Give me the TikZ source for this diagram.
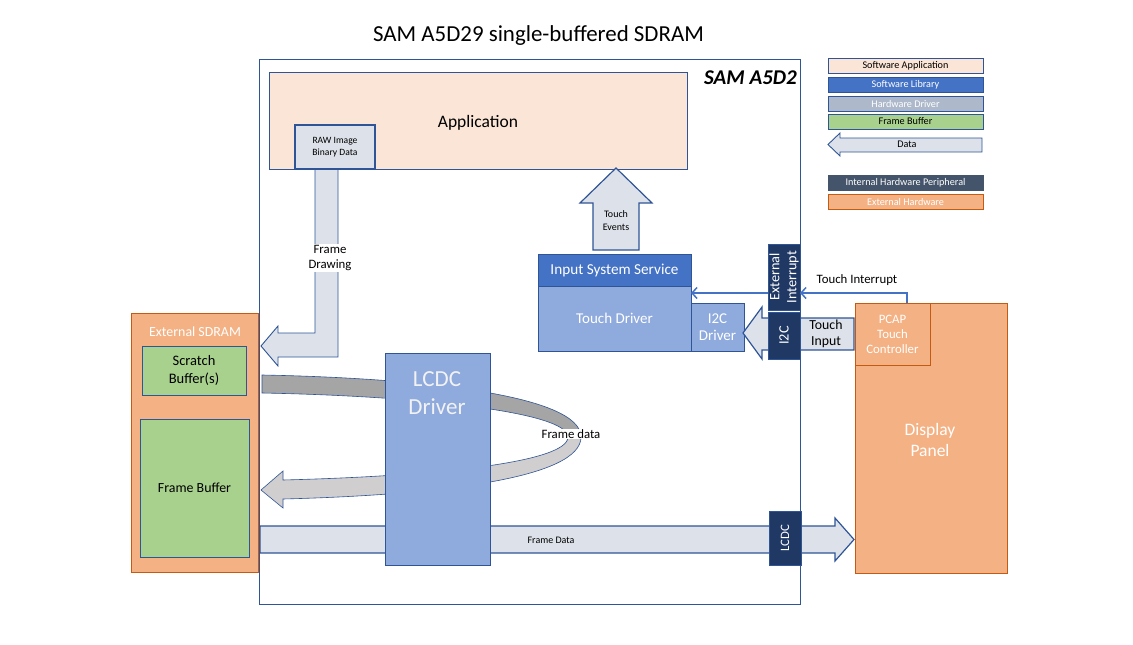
\documentclass[tikz,border=0pt]{standalone}
\usepackage{fontspec}
\setmainfont{Carlito}
\usetikzlibrary{arrows.meta}
\definecolor{bord}{HTML}{2F5597}
\definecolor{softapp}{HTML}{FBE5D6}
\definecolor{swlib}{HTML}{4472C4}
\definecolor{hwdrv}{HTML}{ADB9CA}
\definecolor{fbuf}{HTML}{A9D18E}
\definecolor{datafill}{HTML}{DDE2EA}
\definecolor{navy}{HTML}{203864}
\definecolor{inthw}{HTML}{44546A}
\definecolor{exthw}{HTML}{F4B183}
\definecolor{exthwb}{HTML}{C55A11}
\definecolor{drv}{HTML}{8FAADC}
\definecolor{dgrey}{HTML}{A5A5A5}
\definecolor{lgrey}{HTML}{D0CECE}
\newcommand{\fsz}[2]{\fontsize{#1}{#2}\selectfont}
\begin{document}
\begin{tikzpicture}[x=1pt,y=-1pt,
  box/.style={draw=bord, line width=0.75pt, inner sep=0pt, outer sep=0pt, align=center},
  wh/.style 2 args={minimum width=#1pt, minimum height=#2pt},
  ext/.style={box, draw=exthwb, fill=exthw, text=white},
  navybox/.style={box, fill=navy, text=white},
  dataarrow/.style={draw=bord, fill=datafill, line width=1.2pt, line join=miter},
  lbl/.style={inner sep=1pt, align=center},
  intarrow/.style={draw=swlib, line width=1.5pt, -{Straight Barb[length=5pt,width=11pt,line width=1.5pt]}},
  leg/.style={box, wh={155}{15}, font=\fsz{10.2}{11}},
]
\fill[white] (0,0) rectangle (1133,645);
\path[use as bounding box] (0,0) rectangle (1133,645);

% title
\node[anchor=base, inner sep=0pt, font=\fsz{22.9}{27}] (title) at (538.5,41.5) {SAM A5D29 single-buffered SDRAM};

% SoC box
\node[draw=bord, line width=0.8pt, wh={541}{545}, inner sep=0pt] (soc) at (529.5,331.5) {};
\node[anchor=base east, inner sep=0pt, font=\fsz{21}{25}\bfseries\itshape] (socname) at (797,84) {SAM A5D2};

% Application
\node[box, fill=softapp, wh={418}{97}] (app) at (478,120.5) {};
\node[anchor=base, inner sep=0pt, font=\fsz{17.5}{20}] (apptxt) at (478,127.7) {Application};

% Frame drawing arrow
\path[dataarrow, line width=0.9pt] (315,169) -- (338,169) -- (338,357) -- (278,357) -- (278,366) -- (261,346) -- (278,326) -- (278,333) -- (315,333) -- cycle;
\node[lbl, fill=white, font=\fsz{12.8}{15}] (fdraw) at (330,258) {Frame\\Drawing};

% RAW image box
\node[box, fill=datafill, line width=1.6pt, wh={80}{44}, font=\fsz{9.6}{12}] (raw) at (335,147) {RAW Image\\Binary Data};

% Touch events arrow
\path[dataarrow] (593,250) -- (593,203) -- (580,203) -- (616,168) -- (652,203) -- (639,203) -- (639,250) -- cycle;
\node[lbl, font=\fsz{10}{13}] (tev) at (616,221) {Touch\\Events};

% Input system service / touch driver
\node[box, fill=swlib, text=white, wh={153}{32}, font=\fsz{15.2}{17}] (iss) at (614.5,270) {Input System Service};
\node[box, fill=drv, text=white, wh={153}{65}, font=\fsz{15}{17}] (tdrv) at (614.5,318.5) {Touch Driver};
\node[box, fill=drv, text=white, wh={53}{48}, font=\fsz{15}{17}] (i2cdrv) at (717.5,327) {I2C\\Driver};

% Touch input arrow
\path[dataarrow] (854,318) -- (762,318) -- (762,307) -- (743,333) -- (762,359) -- (762,350) -- (854,350) -- cycle;
\node[lbl, font=\fsz{13.8}{15.5}] (tin) at (826,334) {Touch\\Input};

% Bottom frame data arrow
\path[dataarrow] (260,526) -- (835,526) -- (835,518) -- (854,539.5) -- (835,561) -- (835,553) -- (260,553) -- cycle;
\node[lbl, font=\fsz{10}{11}] (fdata) at (551,540) {Frame Data};

% Curved frame data arrow
\filldraw[fill=dgrey, draw=bord, line width=0.6pt] (262,375) .. controls (420,378) and (581,395) .. (581,437) -- (568,437) .. controls (568,412) and (420,396) .. (262,393) -- cycle;
\filldraw[fill=lgrey, draw=bord, line width=0.6pt] (581,437) .. controls (581,478) and (440,495) .. (283,499) -- (283,508) -- (261,490) -- (283,471) -- (283,480) .. controls (440,476) and (568,462) .. (568,437) -- cycle;
\node[lbl, fill=white, font=\fsz{12.8}{14}] (fdlbl) at (571,434) {Frame data};

% LCDC driver
\node[box, fill=drv, wh={105}{212}] (lcdcdrv) at (437.5,459) {};
\node[lbl, text=white!95!black, font=\fsz{23}{28}] (lcdctxt) at (437,393) {LCDC\\Driver};

% navy peripherals
\node[navybox, wh={32}{66}] (extint) at (784,277) {};
\node[rotate=90, lbl, text=white, font=\fsz{14.3}{17}] (extinttxt) at (extint.center) {External\\Interrupt};
\node[navybox, wh={32}{47}] (i2c) at (784,335.5) {};
\node[rotate=90, lbl, text=white, font=\fsz{14.3}{16}] (i2ctxt) at (i2c.center) {I2C};
\node[navybox, wh={32}{54}] (lcdc) at (785,538) {};
\node[rotate=90, lbl, text=white, font=\fsz{12.8}{14}] (lcdctxt2) at (lcdc.center) {LCDC};

% External SDRAM
\node[ext, wh={127}{259}] (sdram) at (194.5,442.5) {};
\node[lbl, text=white, font=\fsz{13.9}{15}] (sdramtxt) at (195,332) {External SDRAM};
\node[box, fill=fbuf, wh={104}{49}, font=\fsz{14.5}{18}] (scratch) at (194,370.5) {Scratch\\Buffer(s)};
\node[box, fill=fbuf, wh={109}{138}, font=\fsz{13.9}{15}] (fb) at (194.5,488) {Frame Buffer};

% Display panel
\node[ext, wh={152}{270}] (display) at (931,438) {};
\node[lbl, text=white, font=\fsz{17.5}{21}] (disptxt) at (930,440) {Display\\Panel};
\node[ext, wh={75}{62}, font=\fsz{12.8}{15}] (pcap) at (892.5,334) {PCAP\\Touch\\Controller};

% Touch interrupt
\coordinate (ti) at (907,293);
\draw[intarrow] (pcap.north -| ti) -- (ti) -- (extint.east |- ti);
\draw[intarrow] (extint.west |- ti) -- (tdrv.east |- ti);
\node[lbl, font=\fsz{12.8}{14}] (titxt) at (857,280) {Touch Interrupt};

% Legend
\node[leg, fill=softapp] (lg1) at (905.5,65.5) {Software Application};
\node[leg, fill=swlib, text=white] (lg2) at (905.5,84.5) {Software Library};
\node[leg, fill=hwdrv, text=white] (lg3) at (905.5,103.5) {Hardware Driver};
\node[leg, fill=fbuf] (lg4) at (905.5,121.5) {Frame Buffer};
\path[dataarrow, line width=0.9pt] (982,138) -- (840,138) -- (840,133) -- (828,144.5) -- (840,156) -- (840,152) -- (982,152) -- cycle;
\node[lbl, font=\fsz{10.2}{11}] (lg5) at (907,144.5) {Data};
\node[leg, fill=inthw, draw=inthw, text=white] (lg6) at (905.5,182.5) {Internal Hardware Peripheral};
\node[leg, fill=exthw, draw=exthwb, text=white] (lg7) at (905.5,201.5) {External Hardware};
\end{tikzpicture}
\end{document}
